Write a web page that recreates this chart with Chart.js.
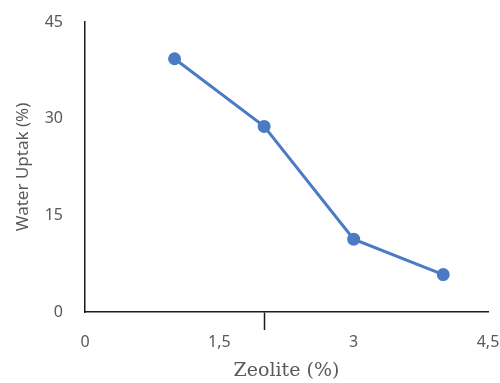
<!DOCTYPE html>
<html>
<head>
<meta charset="utf-8">
<script src="https://cdn.jsdelivr.net/npm/chart.js@4/dist/chart.umd.min.js"></script>
<style>
  html, body { margin: 0; padding: 0; background: #fff; }
  #wrap { width: 500px; height: 383px; }
</style>
</head>
<body>
<div id="wrap"><canvas id="uptakeChart" width="500" height="383"></canvas></div>
<script>
// Water uptake vs zeolite content
const zeolite = [1, 2, 3, 4];
const waterUptake = [39.3, 28.8, 11.3, 5.8];
const xTickValues = [0, 1.5, 3, 4.5];
const xMarkTick = 2; // lone tick mark drawn below the axis
const yTickValues = [0, 15, 30, 45];

const textGrey = '#595959';
const lineBlue = '#4a7bc4';

const ctx = document.getElementById('uptakeChart').getContext('2d');
new Chart(ctx, {
  type: 'line',
  data: {
    datasets: [{
      label: 'Water Uptak (%)',
      data: zeolite.map((z, i) => ({ x: z, y: waterUptake[i] })),
      borderColor: lineBlue,
      backgroundColor: lineBlue,
      borderWidth: 3,
      pointRadius: 5,
      pointHoverRadius: 5,
      tension: 0,
      fill: false
    }]
  },
  options: {
    responsive: false,
    animation: false,
    layout: { padding: { top: 22, right: 12, left: 0, bottom: 0 } },
    plugins: {
      legend: { display: false },
      tooltip: { enabled: false }
    },
    scales: {
      x: {
        type: 'linear',
        min: 0,
        max: 4.5,
        afterBuildTicks: s => {
          s.ticks = [...xTickValues, xMarkTick].sort((a, b) => a - b).map(v => ({ value: v }));
        },
        afterFit: s => {
          s.height = 71;
          s.paddingLeft = 0;
          s.paddingRight = 0;
        },
        border: { display: true, color: '#1a1a1a', width: 1.5 },
        grid: {
          drawOnChartArea: false,
          drawTicks: true,
          tickLength: 18,
          tickWidth: 1.5,
          tickColor: c => (c.tick && c.tick.value === xMarkTick ? '#1a1a1a' : 'rgba(0,0,0,0)')
        },
        ticks: {
          autoSkip: false,
          maxRotation: 0,
          padding: 3,
          color: textGrey,
          font: { family: 'Noto Sans', size: 16 },
          callback: v => (v === xMarkTick ? '' : String(v).replace('.', ','))
        },
        title: {
          display: true,
          text: 'Zeolite (%)',
          color: textGrey,
          font: { family: 'DejaVu Serif', size: 19 },
          padding: { top: 0, bottom: 1 }
        }
      },
      y: {
        min: 0,
        max: 45,
        afterBuildTicks: s => { s.ticks = yTickValues.map(v => ({ value: v })); },
        afterFit: s => {
          s.width = 85;
          // label gap shouldn't push the plot area down
          s.paddingTop = 0;
          s.paddingBottom = 0;
        },
        border: { display: true, color: '#1a1a1a', width: 1.5 },
        grid: { display: false, drawTicks: false },
        ticks: {
          padding: 22,
          color: textGrey,
          font: { family: 'Noto Sans', size: 16 }
        },
        title: {
          display: true,
          text: 'Water Uptak (%)',
          color: textGrey,
          font: { family: 'Noto Sans', size: 17 },
          padding: { top: 13, bottom: 0 }
        }
      }
    }
  }
});
</script>
</body>
</html>
